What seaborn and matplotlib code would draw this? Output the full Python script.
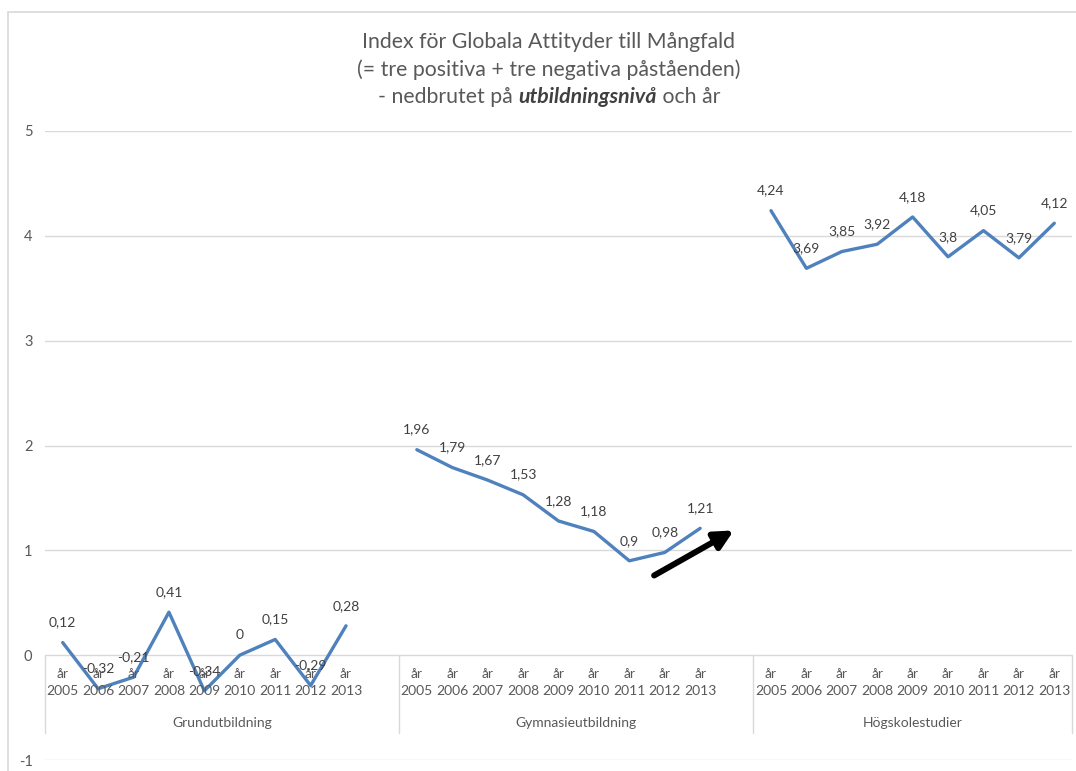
import pandas as pd
import matplotlib.pyplot as plt
import seaborn as sns
from matplotlib.patches import Rectangle

# Data
GROUPS = ["Grundutbildning", "Gymnasieutbildning", "Högskolestudier"]
YEARS = ["2005", "2006", "2007", "2008", "2009", "2010", "2011", "2012", "2013"]
GRUND = [0.12, -0.32, -0.21, 0.41, -0.34, 0.0, 0.15, -0.29, 0.28]
GYMN = [1.96, 1.79, 1.67, 1.53, 1.28, 1.18, 0.9, 0.98, 1.21]
HOGSK = [4.24, 3.69, 3.85, 3.92, 4.18, 3.8, 4.05, 3.79, 4.12]
Y_TICKS = [-1, 0, 1, 2, 3, 4, 5]

TITLE_1 = "Index för Globala Attityder till Mångfald"
TITLE_2 = "(= tre positiva + tre negativa påståenden)"
TITLE_3 = ["- nedbrutet på ", "utbildningsnivå", " och år"]

LINE_COLOR = "#4F81BD"
GRID_COLOR = "#D9D9D9"
TEXT_COLOR = "#595959"
LABEL_COLOR = "#404040"

# one empty category slot between groups (as in the Excel sheet)
SLOT = len(YEARS) + 1
rows = []
for g, vals in enumerate([GRUND, GYMN, HOGSK]):
    for i, (yr, v) in enumerate(zip(YEARS, vals)):
        rows.append({"group": GROUPS[g], "year": yr, "pos": g * SLOT + i, "value": v})
df = pd.DataFrame(rows)

sns.set_theme(style="white")
plt.rcParams["font.family"] = ["Lato", "DejaVu Sans"]

W, H = 1076, 771
fig = plt.figure(figsize=(W / 100, H / 100), dpi=100)
ax = fig.add_axes([45 / W, 11 / H, 1027 / W, 629 / H])

sns.lineplot(data=df, x="pos", y="value", units="group", estimator=None,
             color=LINE_COLOR, linewidth=2.4, ax=ax, legend=False)

n_slots = SLOT * len(GROUPS) - 1
ax.set_xlim(-0.5, n_slots - 0.5)
ax.set_ylim(Y_TICKS[0], Y_TICKS[-1])
ax.set_yticks(Y_TICKS)
ax.set_yticklabels([str(t) for t in Y_TICKS])
ax.tick_params(axis="y", length=0, pad=9, labelsize=10.5, labelcolor=TEXT_COLOR)
ax.set_xticks([])
ax.set_xlabel("")
ax.set_ylabel("")
for s in ax.spines.values():
    s.set_visible(False)
for t in Y_TICKS:
    ax.axhline(t, color=GRID_COLOR, lw=1, zorder=0)

# data labels
for _, r in df.iterrows():
    ax.annotate(f"{r['value']:g}".replace(".", ","), (r["pos"], r["value"]),
                xytext=(0, 14.5), textcoords="offset points", ha="center",
                va="center", fontsize=10, color=LABEL_COLOR)

# multi-level category axis below y = 0
for _, r in df.iterrows():
    ax.text(r["pos"], -0.26, "år\n" + r["year"], ha="center", va="center",
            fontsize=10, color=TEXT_COLOR, linespacing=1.5)
sep_y = -0.745
for g in range(len(GROUPS) + 1):
    x = g * SLOT - 0.5 if g < len(GROUPS) else n_slots - 0.5
    ax.plot([x, x], [0, sep_y], color=GRID_COLOR, lw=1, zorder=0, clip_on=False)
for g, name in enumerate(GROUPS):
    left = g * SLOT - 0.5
    right = min((g + 1) * SLOT - 0.5, n_slots - 0.5)
    ax.text((left + right) / 2, -0.645, name, ha="center", va="center",
            fontsize=10, color=TEXT_COLOR)

# arrow marking the upturn
ax.annotate("", xy=(18.95, 1.19), xytext=(16.7, 0.76),
            arrowprops=dict(arrowstyle="-|>", lw=4.3, color="black",
                            mutation_scale=28, shrinkA=0, shrinkB=0))

# title
TITLE_SIZE = 15.3
fig.text(549 / W, 1 - 42 / H, TITLE_1, ha="center", va="center",
         fontsize=TITLE_SIZE, color=TEXT_COLOR)
fig.text(549 / W, 1 - 70 / H, TITLE_2, ha="center", va="center",
         fontsize=TITLE_SIZE, color=TEXT_COLOR)
parts = []
for k, txt in enumerate(TITLE_3):
    bold = k == 1
    parts.append(fig.text(0, 1 - 97 / H, txt, ha="left", va="center", fontsize=TITLE_SIZE,
                          color=TEXT_COLOR if not bold else "#404040",
                          fontweight="bold" if bold else "normal",
                          fontstyle="italic" if bold else "normal"))
renderer = fig.canvas.get_renderer()
widths = [p.get_window_extent(renderer).width for p in parts]
x0 = 549 - sum(widths) / 2
for p, w in zip(parts, widths):
    p.set_x(x0 / W)
    x0 += w

# chart area border
fig.add_artist(Rectangle((8 / W, -0.05), 1.0, 1 - 12 / H + 0.05, transform=fig.transFigure,
                         fill=False, edgecolor=GRID_COLOR, lw=1.2))

fig.savefig("out.png", dpi=100)
